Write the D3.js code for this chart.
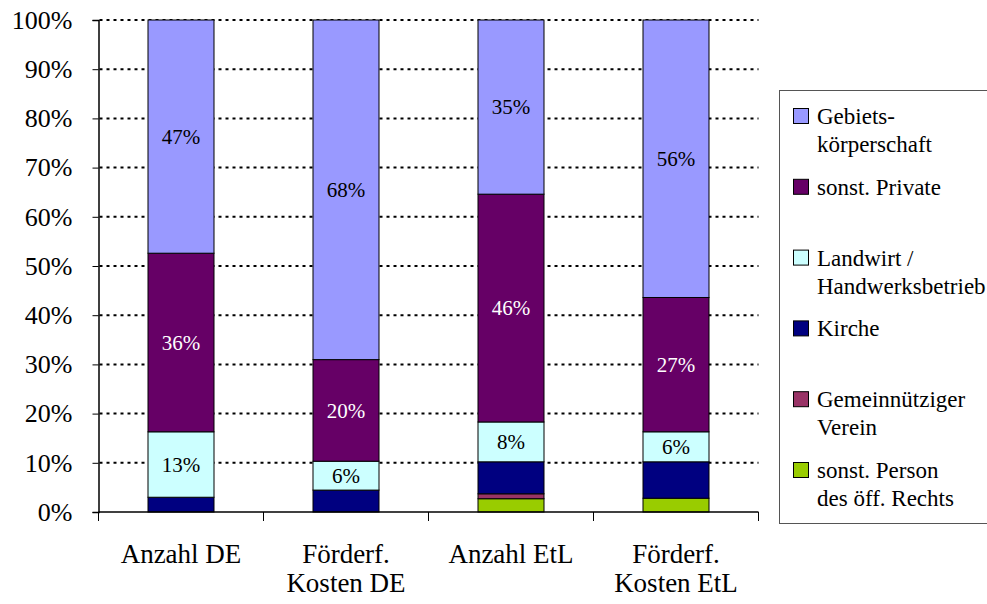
<!DOCTYPE html>
<html lang="de">
<head>
  <meta charset="UTF-8">
  <title>Stacked 100% Chart</title>
  <script src="https://d3js.org/d3.v7.min.js"></script>
  <style>
    body { margin: 0; background: #fff; }
    svg text { font-family: "Liberation Serif", "Times New Roman", serif; fill: #000; }
    .grid line { stroke: #000; stroke-width: 2; stroke-dasharray: 3 4; }
  </style>
</head>
<body>
  <svg width="987" height="604"></svg>

  <script>
    // categories (x axis), line breaks as in the original
    const categories = ['Anzahl DE', 'Förderf.\nKosten DE', 'Anzahl EtL', 'Förderf.\nKosten EtL'];

    // series values in percent, bottom of the stack first
    const person   = [0, 0, 2.7, 2.8];
    const verein   = [0, 0, 1.0, 0];
    const kirche   = [3.0, 4.4, 6.5, 7.4];
    const landwirt = [13.3, 5.8, 8.1, 6.1];
    const privat   = [36.3, 20.4, 46.3, 27.3];
    const gebiet   = [47.4, 68.2, 35.4, 56.4];

    const seriesNames = ['sonst. Person\ndes öff. Rechts', 'Gemeinnütziger\nVerein', 'Kirche',
      'Landwirt /\nHandwerksbetrieb', 'sonst. Private', 'Gebiets-\nkörperschaft'];
    const seriesValues = [person, verein, kirche, landwirt, privat, gebiet];
    const seriesColors = ['#99CC00', '#993366', '#000080', '#CCFFFF', '#660066', '#9999FF'];
    const labelColors = [null, null, null, '#000', '#fff', '#000'];  // null = no data label

    const yTicks = [0, 0.1, 0.2, 0.3, 0.4, 0.5, 0.6, 0.7, 0.8, 0.9, 1];

    const plotLeft = 98.5, plotRight = 758.5, plotTop = 20, plotBottom = 512;

    const keys = seriesNames.map((d, i) => 's' + i);
    const rows = categories.map((c, j) => {
      const r = { cat: c };
      keys.forEach((k, i) => { r[k] = seriesValues[i][j]; });
      return r;
    });

    const stacked = d3.stack().keys(keys).offset(d3.stackOffsetExpand)(rows);

    const svg = d3.select('svg');

    const x = d3.scaleBand()
      .domain(categories)
      .range([plotLeft, plotRight])
      .paddingInner(0.6)
      .paddingOuter(0.3);

    const y = d3.scaleLinear()
      .domain([0, 1])
      .range([plotBottom, plotTop]);

    // dotted gridlines
    svg.append('g')
      .attr('class', 'grid')
      .selectAll('line')
      .data(yTicks.slice(1))
      .enter()
      .append('line')
      .attr('x1', plotLeft + 1)
      .attr('x2', plotRight)
      .attr('y1', d => y(d))
      .attr('y2', d => y(d));

    // bars
    svg.selectAll('.layer')
      .data(stacked)
      .enter()
      .append('g')
      .attr('class', 'layer')
      .attr('fill', (d, i) => seriesColors[i])
      .selectAll('rect')
      .data(d => d.filter(p => p[1] - p[0] > 0))
      .enter()
      .append('rect')
      .attr('x', d => x(d.data.cat))
      .attr('width', x.bandwidth())
      .attr('y', d => y(d[1]))
      .attr('height', d => y(d[0]) - y(d[1]))
      .attr('stroke', '#000')
      .attr('stroke-width', 1);

    // data labels
    stacked.forEach((layer, i) => {
      if (!labelColors[i]) return;
      svg.append('g')
        .selectAll('text')
        .data(layer)
        .enter()
        .append('text')
        .attr('x', d => x(d.data.cat) + x.bandwidth() / 2)
        .attr('y', d => (y(d[0]) + y(d[1])) / 2)
        .attr('dy', '0.35em')
        .attr('text-anchor', 'middle')
        .style('font-size', '21px')
        .style('fill', labelColors[i])
        .text(d => d3.format('.0f')(seriesValues[i][categories.indexOf(d.data.cat)]) + '%');
    });

    // y axis
    const yAxis = svg.append('g')
      .attr('transform', `translate(${plotLeft},0)`)
      .call(d3.axisLeft(y).tickValues(yTicks).tickFormat(d3.format('.0%')).tickSizeOuter(0).tickSize(6).tickPadding(20));
    yAxis.select('.domain').attr('stroke', '#000').attr('stroke-width', 1.5);
    yAxis.selectAll('text').style('font-size', '26px');

    // x axis: line with ticks at category boundaries
    const step = x.step();
    const boundaries = d3.range(categories.length + 1).map(i => plotLeft + i * step);
    svg.append('line')
      .attr('x1', plotLeft).attr('x2', plotRight)
      .attr('y1', plotBottom).attr('y2', plotBottom)
      .attr('stroke', '#000').attr('stroke-width', 1.5);
    svg.append('g')
      .selectAll('line')
      .data(boundaries)
      .enter()
      .append('line')
      .attr('x1', d => d).attr('x2', d => d)
      .attr('y1', plotBottom).attr('y2', plotBottom + 9)
      .attr('stroke', '#000');

    svg.append('g')
      .selectAll('text')
      .data(categories)
      .enter()
      .append('text')
      .attr('x', d => x(d) + x.bandwidth() / 2)
      .attr('y', 563)
      .attr('text-anchor', 'middle')
      .style('font-size', '27px')
      .each(function (d) {
        d.split('\n').forEach((line, k) => {
          d3.select(this).append('tspan')
            .attr('x', x(d) + x.bandwidth() / 2)
            .attr('dy', k === 0 ? 0 : 29)
            .text(line);
        });
      });

    // legend
    const legend = svg.append('g');
    legend.append('rect')
      .attr('x', 779.5).attr('y', 90.5)
      .attr('width', 220).attr('height', 433)
      .attr('fill', '#fff')
      .attr('stroke', '#555');

    const order = d3.range(seriesNames.length).reverse();
    const item = legend.selectAll('.item')
      .data(order)
      .enter()
      .append('g')
      .attr('class', 'item')
      .attr('transform', (d, k) => `translate(0,${116 + k * 70.8})`);

    item.append('rect')
      .attr('x', 793.5).attr('y', -7.5)
      .attr('width', 15).attr('height', 15)
      .attr('fill', d => seriesColors[d])
      .attr('stroke', '#000');

    item.append('text')
      .attr('x', 817)
      .attr('y', 0)
      .style('font-size', '23px')
      .each(function (d) {
        seriesNames[d].split('\n').forEach((line, k) => {
          d3.select(this).append('tspan')
            .attr('x', 817)
            .attr('dy', k === 0 ? '0.35em' : 28)
            .text(line);
        });
      });
  </script>
</body>
</html>
